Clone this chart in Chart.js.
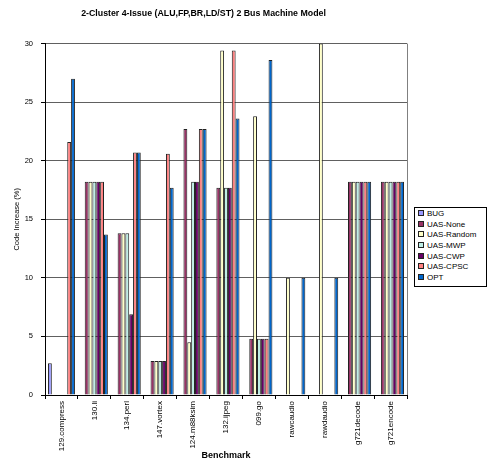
<!DOCTYPE html>
<html>
<head>
<meta charset="utf-8">
<script src="https://cdn.jsdelivr.net/npm/chart.js@4"></script>
<style>
  body { margin: 0; background: #fff; }
  #wrap { position: relative; width: 490px; height: 462px; }
  #legend {
    position: absolute; left: 414px; top: 207px; width: 71px; height: 77px;
    border: 1px solid #000; background: #fff;
    font-family: "Liberation Sans", Arial, sans-serif; font-size: 8px; color: #000;
    padding-top: 1px; box-sizing: content-box;
  }
  #legend div { height: 10.7px; line-height: 10.7px; white-space: nowrap; padding-left: 3px; }
  #legend span {
    display: inline-block; width: 4px; height: 4px; border: 1px solid #222;
    margin-right: 3px; vertical-align: middle; position: relative; top: -1px;
  }
</style>
</head>
<body>
<div id="wrap">
  <canvas id="barChart" width="490" height="462"></canvas>
  <div id="legend"></div>
</div>
<script>
// benchmarks on the x axis
const categories = ['129.compress', '130.li', '134.perl', '147.vortex', '124.m88ksim',
  '132.ijpeg', '099.go', 'rawcaudio', 'rawdaudio', 'g721decode', 'g721encode'];

// code increase (%) per benchmark, null = no bar
const bug       = [2.7, null, null, null, null, null, null, null, null, null, null];
const uasNone   = [null, 18.2, 13.8, 2.9, 22.7, 17.7, 4.8, null, null, 18.2, 18.2];
const uasRandom = [null, 18.2, 13.8, 2.9, 4.5, 29.4, 23.8, 10.0, 30.0, 18.2, 18.2];
const uasMwp    = [null, 18.2, 13.8, 2.9, 18.2, 17.7, 4.8, null, null, 18.2, 18.2];
const uasCwp    = [null, 18.2, 6.9, 2.9, 18.2, 17.7, 4.8, null, null, 18.2, 18.2];
const uasCpsc   = [21.6, 18.2, 20.7, 20.6, 22.7, 29.4, 4.8, null, null, 18.2, 18.2];
const opt       = [27.0, 13.7, 20.7, 17.7, 22.7, 23.6, 28.6, 10.0, 10.0, 18.2, 18.2];

const seriesNames = ['BUG', 'UAS-None', 'UAS-Random', 'UAS-MWP', 'UAS-CWP', 'UAS-CPSC', 'OPT'];
const seriesData = [bug, uasNone, uasRandom, uasMwp, uasCwp, uasCpsc, opt];
const colors = ['#9999FF', '#993366', '#FFFFC8', '#BDEEE6', '#660066', '#FF8080', '#0066CC'];

const yTicks = [0, 5, 10, 15, 20, 25, 30];

const font = "'Liberation Sans', Arial, sans-serif";

// gray frame line on the right of the plot area
const rightBorder = {
  id: 'rightBorder',
  afterDraw(chart) {
    const a = chart.chartArea;
    const ctx = chart.ctx;
    ctx.save();
    ctx.strokeStyle = '#808080';
    ctx.lineWidth = 1;
    ctx.beginPath();
    ctx.moveTo(Math.round(a.right) + 0.5, a.top);
    ctx.lineTo(Math.round(a.right) + 0.5, a.bottom);
    ctx.stroke();
    ctx.restore();
  }
};

const ctx = document.getElementById('barChart').getContext('2d');
new Chart(ctx, {
  type: 'bar',
  data: {
    labels: categories,
    datasets: seriesNames.map((name, i) => ({
      label: name,
      data: seriesData[i],
      backgroundColor: colors[i],
      borderColor: '#222',
      borderWidth: 1,
      barPercentage: 1,
      categoryPercentage: 0.82,
    }))
  },
  options: {
    responsive: false,
    animation: false,
    layout: { padding: { right: 83, left: 0, bottom: 0 } },
    plugins: {
      legend: { display: false },
      tooltip: { enabled: false },
      title: {
        display: true,
        text: '2-Cluster 4-Issue (ALU,FP,BR,LD/ST) 2 Bus Machine Model',
        color: '#000',
        font: { family: font, size: 8.8, weight: 'bold' },
        padding: { top: 8, bottom: 25 }
      }
    },
    scales: {
      x: {
        afterFit: (s) => { s.height = 67; },
        border: { color: '#000', width: 1 },
        grid: { drawOnChartArea: false, drawTicks: true, tickLength: 4, tickColor: '#000' },
        ticks: {
          minRotation: 90, maxRotation: 90, autoSkip: false, padding: 2,
          color: '#000', font: { family: font, size: 8 }
        },
        title: {
          display: true, text: 'Benchmark', color: '#000',
          font: { family: font, size: 9, weight: 'bold' },
          padding: { top: 0, bottom: 1 }
        }
      },
      y: {
        min: 0, max: 30,
        afterFit: (s) => { s.width = 45; },
        afterBuildTicks: (s) => { s.ticks = yTicks.map(v => ({ value: v })); },
        border: { color: '#000', width: 1 },
        grid: { color: '#606060', tickColor: '#000', tickLength: 4 },
        ticks: { color: '#000', padding: 8, font: { family: font, size: 7.5 } },
        title: {
          display: true, text: 'Code Increase (%)', color: '#000',
          font: { family: font, size: 7.5 },
          padding: { top: 12, bottom: 0 }
        }
      }
    }
  },
  plugins: [rightBorder]
});

// legend box
const legend = document.getElementById('legend');
seriesNames.forEach((name, i) => {
  const row = document.createElement('div');
  const sw = document.createElement('span');
  sw.style.background = colors[i];
  row.appendChild(sw);
  row.appendChild(document.createTextNode(name));
  legend.appendChild(row);
});
</script>
</body>
</html>
